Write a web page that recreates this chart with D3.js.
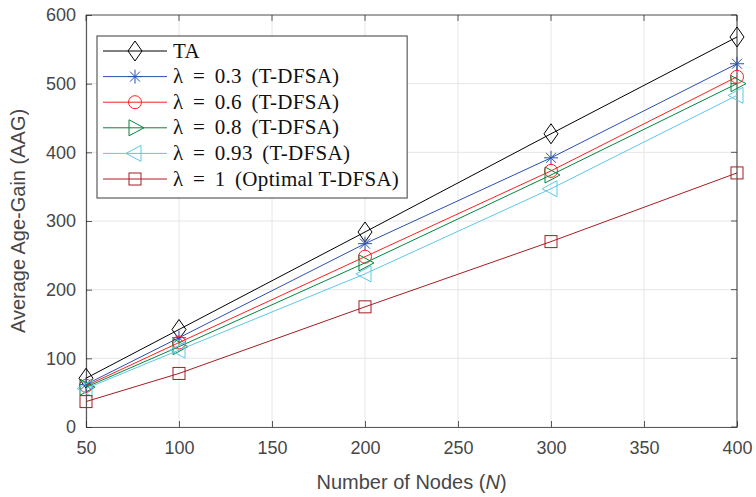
<!DOCTYPE html>
<html>
<head>
<meta charset="utf-8">
<script src="https://cdn.jsdelivr.net/npm/d3@7"></script>
<style>
  html, body { margin: 0; padding: 0; background: #fff; }
  svg { display: block; }
</style>
</head>
<body>
<svg id="chart" width="756" height="497"></svg>
<script>
// Number of nodes on the x axis
const nodes = [50, 100, 200, 300, 400];

// Legend entries: math part and descriptive part
const seriesMath = ["", "λ = 0.3", "λ = 0.6", "λ = 0.8", "λ = 0.93", "λ = 1"];
const seriesText = ["TA", "(T-DFSA)", "(T-DFSA)", "(T-DFSA)", "(T-DFSA)", "(Optimal T-DFSA)"];

// Average age-gain per scheme
const taValues      = [71, 142, 284, 427, 568];
const lambda03      = [62, 130, 267, 392, 529];
const lambda06      = [60, 123, 248, 373, 510];
const lambda08      = [58, 117, 239, 367, 500];
const lambda093     = [56, 112, 223, 347, 483];
const lambda1       = [37, 78, 175, 270, 370];

const xTicks = [50, 100, 150, 200, 250, 300, 350, 400];
const yTicks = [0, 100, 200, 300, 400, 500, 600];

const colors  = ["#000000", "#2a4fb5", "#ff1f1f", "#00873c", "#5cc8e8", "#a51d22"];
const markers = ["diamond", "star", "circle", "triRight", "triLeft", "square"];
const allValues = [taValues, lambda03, lambda06, lambda08, lambda093, lambda1];

const svg = d3.select("#chart");
const m = { left: 86, right: 737, top: 15, bottom: 427 };

const x = d3.scaleLinear().domain([50, 400]).range([m.left, m.right]);
const y = d3.scaleLinear().domain([0, 600]).range([m.bottom, m.top]);

const axisColor = "#262626";
const tickFont = "Liberation Sans, Arial, sans-serif";
const serif = "Liberation Serif, Times New Roman, serif";

// grid
const grid = svg.append("g");
grid.selectAll(".gx").data(xTicks).join("line")
  .attr("x1", d => x(d)).attr("x2", d => x(d))
  .attr("y1", m.top).attr("y2", m.bottom)
  .attr("stroke", "#e6e6e6").attr("stroke-width", 1);
grid.selectAll(".gy").data(yTicks).join("line")
  .attr("x1", m.left).attr("x2", m.right)
  .attr("y1", d => y(d)).attr("y2", d => y(d))
  .attr("stroke", "#e6e6e6").attr("stroke-width", 1);

// axes with inward ticks
const xAxis = d3.axisBottom(x).tickValues(xTicks).tickSize(-6).tickPadding(14).tickSizeOuter(0);
const yAxis = d3.axisLeft(y).tickValues(yTicks).tickSize(-6).tickPadding(10).tickSizeOuter(0);

const gx = svg.append("g").attr("transform", `translate(0,${m.bottom})`).call(xAxis);
const gy = svg.append("g").attr("transform", `translate(${m.left},0)`).call(yAxis);
[gx, gy].forEach(g => {
  g.select(".domain").attr("stroke", axisColor).attr("stroke-width", 1.2).attr("stroke-opacity", 0.75);
  g.selectAll(".tick line").attr("stroke", axisColor).attr("stroke-opacity", 0.75);
  g.selectAll(".tick text").attr("fill", axisColor).attr("font-family", tickFont)
    .attr("font-size", 18).attr("opacity", 0.85);
});

// top and right frame
const frame = svg.append("g");
frame.append("line").attr("x1", m.left).attr("x2", m.right).attr("y1", m.top).attr("y2", m.top)
  .attr("stroke", axisColor).attr("stroke-width", 1.2).attr("stroke-opacity", 0.75);
frame.append("line").attr("x1", m.right).attr("x2", m.right).attr("y1", m.top).attr("y2", m.bottom)
  .attr("stroke", axisColor).attr("stroke-width", 1.2).attr("stroke-opacity", 0.75);
frame.selectAll(".tr").data(xTicks).join("line")
  .attr("x1", d => x(d)).attr("x2", d => x(d)).attr("y1", m.top).attr("y2", m.top + 6)
  .attr("stroke", axisColor).attr("stroke-opacity", 0.75);
frame.selectAll(".rr").data(yTicks).join("line")
  .attr("x1", m.right - 6).attr("x2", m.right).attr("y1", d => y(d)).attr("y2", d => y(d))
  .attr("stroke", axisColor).attr("stroke-opacity", 0.75);

// axis titles
const xt = svg.append("text").attr("x", (m.left + m.right) / 2).attr("y", 489)
  .attr("text-anchor", "middle").attr("font-family", tickFont).attr("font-size", 20)
  .attr("fill", axisColor).attr("opacity", 0.85);
xt.append("tspan").text("Number of Nodes (");
xt.append("tspan").attr("font-style", "italic").text("N");
xt.append("tspan").text(")");

svg.append("text").attr("transform", `translate(25,${(m.top + m.bottom) / 2}) rotate(-90)`)
  .attr("text-anchor", "middle").attr("font-family", tickFont).attr("font-size", 20)
  .attr("fill", axisColor).attr("opacity", 0.85).text("Average Age-Gain (AAG)");

// marker drawing
function drawMarker(g, type, cx, cy, color) {
  const s = g.append("g").attr("transform", `translate(${cx},${cy})`)
    .attr("fill", "none").attr("stroke", color).attr("stroke-width", 1);
  if (type === "diamond") {
    s.append("path").attr("d", "M0,-10L7,0L0,10L-7,0Z");
  } else if (type === "circle") {
    s.append("circle").attr("r", 6.5);
  } else if (type === "square") {
    s.append("rect").attr("x", -6).attr("y", -6).attr("width", 12).attr("height", 12);
  } else if (type === "triRight") {
    s.append("path").attr("d", "M-6,-8L9,0L-6,8Z");
  } else if (type === "triLeft") {
    s.append("path").attr("d", "M6,-8L-9,0L6,8Z");
  } else if (type === "star") {
    s.append("path").attr("d", "M-7,0L7,0M0,-7L0,7M-5,-5L5,5M-5,5L5,-5");
  }
}

// series
const line = d3.line().x(d => x(d[0])).y(d => y(d[1]));
const plot = svg.append("g");
allValues.forEach((vals, i) => {
  const pts = nodes.map((n, j) => [n, vals[j]]);
  plot.append("path").datum(pts).attr("d", line)
    .attr("fill", "none").attr("stroke", colors[i]).attr("stroke-width", 1);
  pts.forEach(p => drawMarker(plot, markers[i], x(p[0]), y(p[1]), colors[i]));
});

// legend
const lg = svg.append("g");
const lx = 97, ly = 36, lh = 162;
const box = lg.append("rect").attr("x", lx).attr("y", ly).attr("height", lh)
  .attr("fill", "#fff").attr("stroke", axisColor).attr("stroke-width", 1.2).attr("stroke-opacity", 0.75);
let maxRight = 0;
seriesText.forEach((txt, i) => {
  const yy = ly + 15 + i * 25.6;
  lg.append("line").attr("x1", lx + 6).attr("x2", lx + 70).attr("y1", yy).attr("y2", yy)
    .attr("stroke", colors[i]).attr("stroke-width", 1);
  drawMarker(lg, markers[i], lx + 38, yy, colors[i]);
  const t = lg.append("text").attr("x", lx + 76).attr("y", yy + 6.5)
    .attr("font-family", serif).attr("font-size", 21).attr("letter-spacing", 0.3)
    .attr("fill", "#111");
  if (seriesMath[i]) {
    t.append("tspan").attr("word-spacing", 4).text(seriesMath[i] + " ");
    t.append("tspan").text(txt);
  } else {
    t.append("tspan").text(txt);
  }
  const bb = t.node().getBBox();
  maxRight = Math.max(maxRight, bb.x + bb.width);
});
box.attr("width", maxRight + 8 - lx);
</script>
</body>
</html>
